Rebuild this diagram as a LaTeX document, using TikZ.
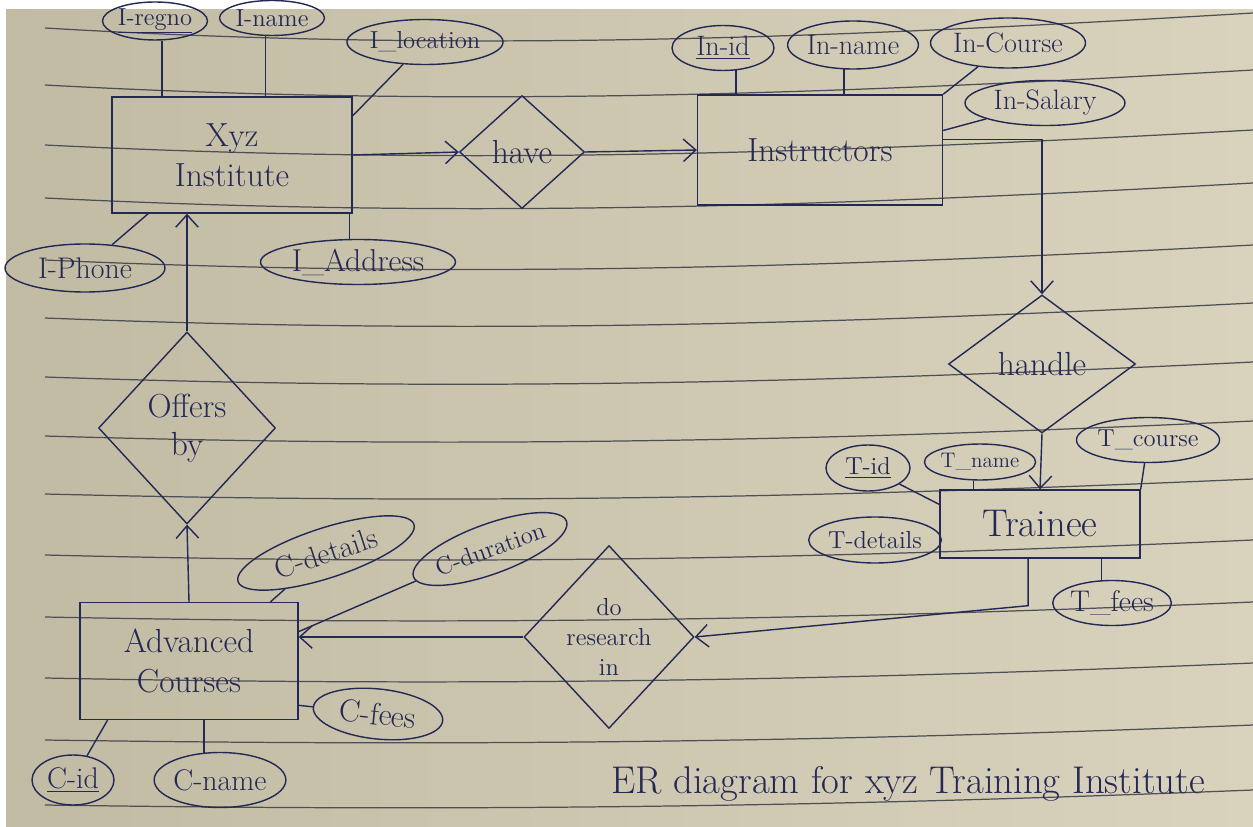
\documentclass[tikz,border=0pt]{standalone}
\usetikzlibrary{shapes.geometric}
\usetikzlibrary{arrows.meta}
\definecolor{paperL}{RGB}{194,187,164}
\definecolor{paperM}{RGB}{206,201,186}
\definecolor{paperR}{RGB}{217,211,189}
\definecolor{ink}{RGB}{36,40,84}
\definecolor{ruleline}{RGB}{78,78,84}

\begin{document}
\begin{tikzpicture}[x=0.02cm, y=-0.02cm,
  ent/.style={draw=ink, thick, rectangle, text=ink, align=center, inner sep=2pt, font=\fontsize{19}{23}\selectfont},
  rel/.style={draw=ink, thick, diamond, text=ink, align=center, inner sep=0pt, font=\fontsize{19}{22}\selectfont},
  attr/.style={draw=ink, thick, ellipse, text=ink, inner sep=0pt, font=\fontsize{14}{16}\selectfont},
  conn/.style={draw=ink, thick},
  ruled/.style={draw=ruleline, line width=0.7pt},
  >={Straight Barb[length=2.5mm,width=4.5mm]}]
\useasboundingbox (0,0) rectangle (1253,827);
\fill[white] (0,0) rectangle (1253,827);
\shade[left color=paperL, middle color=paperM, right color=paperR] (6,10) rectangle (1253,827);
\foreach \ly/\b in {28/12, 85/11, 145/10, 198/10, 260/9, 318/8, 377/7, 436/6, 494/5, 555/5, 617/4, 678/4, 740/3, 805/3}
  \draw[ruled] (45,\ly) .. controls (450,\ly+2*\b) and (800,\ly+\b) .. (1253,\ly-15);

\node[ent, minimum width=4.8cm, minimum height=2.32cm] (xyz) at (232,155) {Xyz\\Institute};
\node[ent, minimum width=4.9cm, minimum height=2.2cm] (instr) at (820,150) {Instructors};
\node[ent, minimum width=4cm, minimum height=1.36cm, font=\fontsize{22}{24}\selectfont] (trainee) at (1040,524) {Trainee};
\node[ent, minimum width=4.36cm, minimum height=2.34cm] (adv) at (189,661) {Advanced\\Courses};

\node[rel, minimum width=2.5cm, minimum height=2.26cm] (have) at (522,152) {have};
\node[rel, minimum width=3.74cm, minimum height=2.76cm] (handle) at (1042,364) {handle};
\node[rel, minimum width=3.54cm, minimum height=3.84cm] (offers) at (187,428) {Offers\\by};
\node[rel, minimum width=3.4cm, minimum height=3.66cm, font=\fontsize{14}{17}\selectfont] (research) at (609,637) {do\\research\\in};

\node[attr, minimum width=1.9cm, minimum height=0.76cm] (regno) at (155,21) {\underline{I-regno}};
\node[attr, minimum width=2.1cm, minimum height=0.7cm] (iname) at (272,18) {I-name};
\node[attr, minimum width=2.6cm, minimum height=0.9cm] (iloc) at (425,42) {I\_location};
\node[attr, minimum width=3.2cm, minimum height=0.96cm, font=\fontsize{17}{19}\selectfont] (iphone) at (85,268) {I-Phone};
\node[attr, minimum width=3.9cm, minimum height=0.9cm, font=\fontsize{18}{20}\selectfont] (iaddr) at (358,262) {I\_Address};
\node[attr, minimum width=2.04cm, minimum height=0.9cm, font=\fontsize{16}{18}\selectfont] (inid) at (723,48) {\underline{In-id}};
\node[attr, minimum width=2.34cm, minimum height=0.96cm, font=\fontsize{16}{18}\selectfont] (inname) at (853,45) {In-name};
\node[attr, minimum width=3.1cm, minimum height=1cm, font=\fontsize{16}{18}\selectfont] (incourse) at (1008,43) {In-Course};
\node[attr, minimum width=3.2cm, minimum height=0.9cm, font=\fontsize{16}{18}\selectfont] (insal) at (1045,103) {In-Salary};
\node[attr, minimum width=1.68cm, minimum height=0.92cm] (tid) at (868,468) {\underline{T-id}};
\node[attr, minimum width=1.8cm, minimum height=0.72cm, font=\fontsize{12}{14}\selectfont] (tname) at (980,462) {T\_name};
\node[attr, minimum width=2.5cm, minimum height=0.9cm] (tcourse) at (1148,440) {T\_course};
\node[attr, minimum width=2.4cm, minimum height=0.92cm] (tdet) at (875,540) {T-details};
\node[attr, minimum width=2.24cm, minimum height=0.9cm, font=\fontsize{17}{19}\selectfont] (tfees) at (1112,603) {T\_fees};
\node[attr, minimum width=3.7cm, minimum height=1cm, rotate=18, font=\fontsize{17}{19}\selectfont] (cdet) at (326,553) {C-details};
\node[attr, minimum width=3.2cm, minimum height=1cm, rotate=20] (cdur) at (490,549) {C-duration};
\node[attr, minimum width=2.6cm, minimum height=1cm, rotate=-6, font=\fontsize{18}{20}\selectfont] (cfees) at (378,714) {C-fees};
\node[attr, minimum width=1.64cm, minimum height=1cm, font=\fontsize{17}{19}\selectfont] (cid) at (73,780) {\underline{C-id}};
\node[attr, minimum width=2.6cm, minimum height=1.1cm, font=\fontsize{17}{19}\selectfont] (cname) at (220,780) {C-name};

\node[text=ink, anchor=base, font=\fontsize{22}{24}\selectfont] (title) at (908,793) {ER diagram for xyz Training Institute};

\draw[conn] (regno.-70) -- (regno.-70 |- xyz.north);
\draw[conn] (iname.250) -- (iname.250 |- xyz.north);
\draw[conn] (iloc) -- (xyz.18);
\draw[conn] (iphone) -- (xyz.215);
\draw[conn] (iaddr.110) -- (iaddr.110 |- xyz.south);
\draw[conn] (inid.-60) -- (inid.-60 |- instr.north);
\draw[conn] (inname.250) -- (inname.250 |- instr.north);
\draw[conn] (incourse) -- (instr.north east);
\draw[conn] (insal) -- (instr.9);
\draw[conn] (tid) -- (trainee.169);
\draw[conn] (tname.250) -- (tname.250 |- trainee.north);
\draw[conn] (tcourse) -- (trainee.north east);
\draw[conn] (tdet.east) -- (tdet.east -| trainee.west);
\draw[conn] (tfees.115) -- (tfees.115 |- trainee.south);
\draw[conn] (cdet) -- (adv.36);
\draw[conn] (cdur) -- (adv.15);
\draw[conn] (cfees) -- (adv.-22);
\draw[conn] (cid) -- (adv.216);
\draw[conn] (cname.120) -- (cname.120 |- adv.south);

\draw[conn, ->] (xyz.east) -- (have.west);
\draw[conn, ->] (have.east) -- (instr.west);
\draw[conn, ->] (instr.5) -| (handle.north);
\draw[conn, ->] (handle.south) -- (trainee.north);
\draw[conn, ->] (trainee.-109) -- ++(0,47) -- (research.east);
\draw[conn, ->] (research.west) -- (research.west -| adv.east);
\draw[conn, ->] (adv.north) -- (offers.south);
\draw[conn, ->] (offers.north) -- (offers.north |- xyz.south);
\end{tikzpicture}
\end{document}
